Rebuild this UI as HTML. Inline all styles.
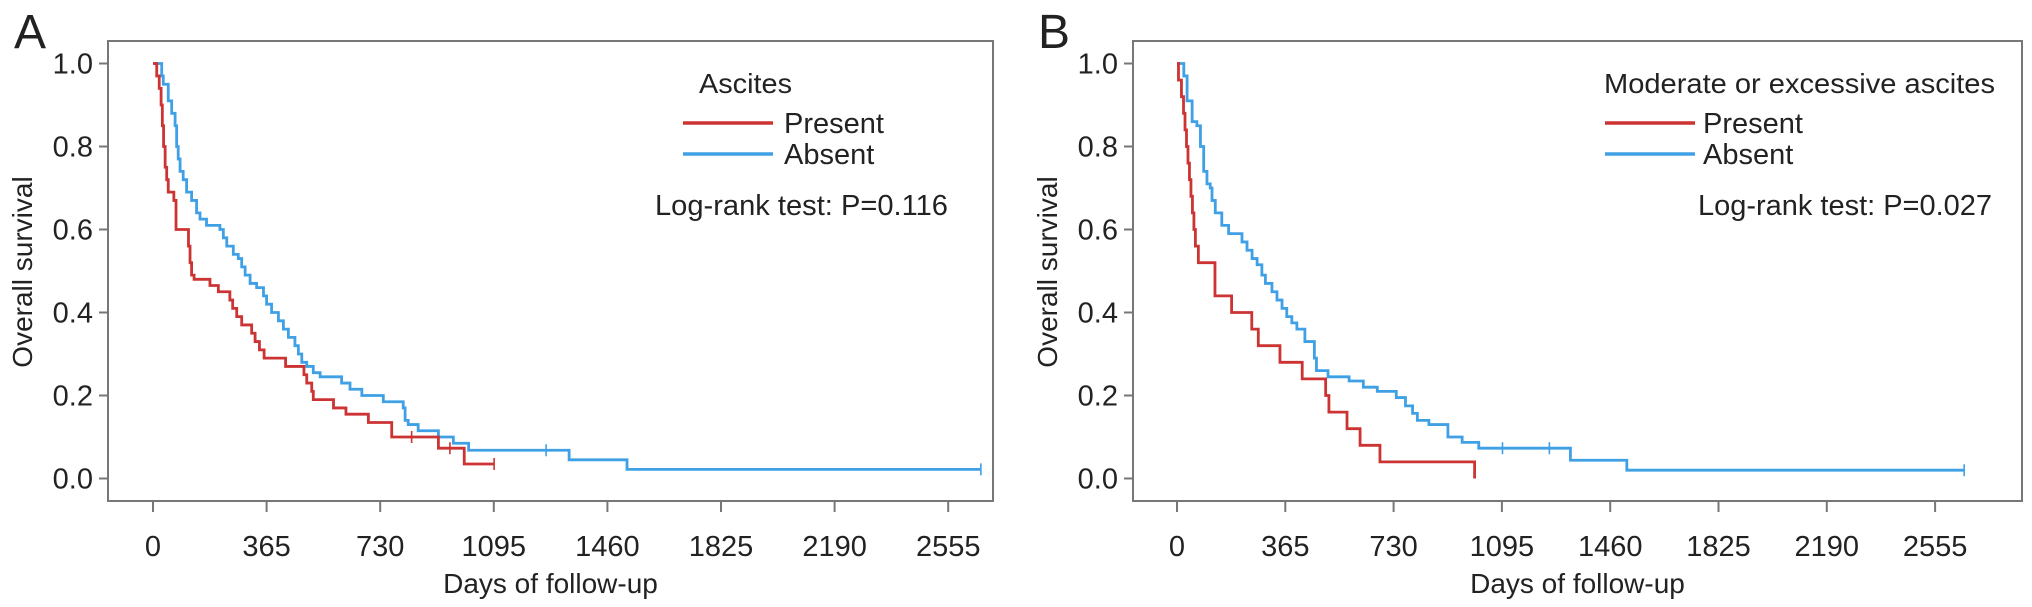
<!DOCTYPE html>
<html><head><meta charset="utf-8"><style>
html,body{margin:0;padding:0;background:#fff}
svg{display:block}
text{font-family:"Liberation Sans",Arial,sans-serif;fill:#222}
</style></head><body>
<svg id="chart" width="2032" height="607" viewBox="0 0 2032 607" xmlns="http://www.w3.org/2000/svg">
<text x="14" y="48" font-size="48">A</text>
<text x="1038" y="48" font-size="48">B</text>
<g id="pa"></g>
<g id="pb"></g>
</svg>
<script>
const xTicks = [0, 365, 730, 1095, 1460, 1825, 2190, 2555];
const yTicks = [0, 0.2, 0.4, 0.6, 0.8, 1.0];
const yTickLabels = ["0.0", "0.2", "0.4", "0.6", "0.8", "1.0"];

const aRedT = [12,20,26,30,34,39,44,49,67,74,114,119,124,132,183,210,247,256,269,285,317,328,342,357,426,485,494,510,515,580,620,692,767,917,1000];
const aRedS = [0.97,0.94,0.9,0.85,0.8,0.75,0.72,0.69,0.67,0.6,0.56,0.52,0.49,0.48,0.465,0.45,0.43,0.41,0.39,0.37,0.35,0.33,0.31,0.29,0.27,0.25,0.23,0.21,0.19,0.17,0.155,0.135,0.1,0.073,0.035];
const aRedEnd = 1096;
const aRedCensor = [831, 954, 1096];

const aBlueT = [28,33,49,60,71,76,81,87,97,108,124,140,151,172,215,226,237,258,274,285,296,312,333,355,365,381,403,419,435,456,467,478,494,515,537,606,633,671,740,804,810,820,852,917,965,1014,1337,1523];
const aBlueS = [0.97,0.95,0.91,0.88,0.85,0.8,0.77,0.74,0.72,0.69,0.67,0.64,0.625,0.61,0.6,0.58,0.56,0.54,0.53,0.51,0.49,0.47,0.46,0.44,0.42,0.4,0.38,0.36,0.34,0.32,0.3,0.28,0.27,0.255,0.245,0.23,0.215,0.2,0.185,0.17,0.14,0.13,0.115,0.1,0.085,0.068,0.045,0.022];
const aBlueEnd = 2660;
const aBlueCensor = [1263, 2660];

const bRedT = [5,15,22,27,32,37,42,47,52,57,62,72,128,184,252,274,347,422,501,512,573,617,684,1003];
const bRedS = [0.96,0.92,0.88,0.84,0.8,0.76,0.72,0.68,0.64,0.6,0.56,0.52,0.44,0.4,0.36,0.32,0.28,0.24,0.2,0.16,0.12,0.08,0.04,0.0];
const bRedEnd = 1003;
const bRedCensor = [];

const bBlueT = [23,34,51,67,79,90,101,112,118,129,151,174,219,236,253,270,286,298,320,337,354,370,387,404,431,463,470,509,580,628,675,739,770,794,810,849,913,961,1017,1326,1516];
const bBlueS = [0.97,0.91,0.86,0.85,0.8,0.74,0.71,0.7,0.67,0.64,0.61,0.59,0.57,0.55,0.53,0.515,0.49,0.47,0.45,0.43,0.41,0.39,0.375,0.36,0.33,0.29,0.26,0.245,0.235,0.22,0.21,0.195,0.175,0.157,0.14,0.13,0.1,0.087,0.073,0.044,0.02];
const bBlueEnd = 2653;
const bBlueCensor = [1097, 1255, 2653];

const RED = "#cc3333", BLUE = "#3fa0e6", AX = "#777";
const NS = "http://www.w3.org/2000/svg";
const Y0 = 478.5, YU = 415, FT = 41, FB = 501;
function mk(tag, attrs, parent, txt){
  const e = document.createElementNS(NS, tag);
  for (const k in attrs) e.setAttribute(k, attrs[k]);
  if (txt !== undefined) e.textContent = txt;
  parent.appendChild(e);
  return e;
}
function panel(g, cfg){
  const xs = d => cfg.x0 + d * cfg.pxPerDay;
  const ys = s => Y0 - s * YU;
  const fr = mk('rect', {x:cfg.fl, y:FT, width:cfg.fr-cfg.fl, height:FB-FT, fill:'none', stroke:AX, 'stroke-width':2}, g);
  
  
  yTicks.forEach((v,i)=>{
    const t = mk('line', {x1:cfg.fl-9, x2:cfg.fl, y1:ys(v), y2:ys(v), stroke:AX, 'stroke-width':2}, g);
    
    
    const l = mk('text', {x:cfg.fl-15, y:ys(v)+10, 'font-size':29, 'text-anchor':'end'}, g, yTickLabels[i]);
    
    
  });
  xTicks.forEach(v=>{
    const t = mk('line', {x1:xs(v), x2:xs(v), y1:FB, y2:FB+11, stroke:AX, 'stroke-width':2}, g);
    
    
    const l = mk('text', {x:xs(v), y:556, 'font-size':29, 'text-anchor':'middle'}, g, String(v));
    
    
  });
  const xt = mk('text', {x:(cfg.fl+cfg.fr)/2, y:593, 'font-size':28, 'text-anchor':'middle'}, g, 'Days of follow-up');
  
  
  const yt = mk('text', {x:0, y:0, 'font-size':28, 'text-anchor':'middle', transform:`translate(${cfg.fl-76},272) rotate(-90)`}, g, 'Overall survival');
  
  
  function curve(T, S, end, cens, col, name){
    let d = `M${xs(0)},${ys(1)}`;
    for (let i=0;i<T.length;i++){ d += ` H${xs(T[i])} V${ys(S[i])}`; }
    d += ` H${xs(end)}`;
    const p = mk('path', {d, fill:'none', stroke:col, 'stroke-width':2.8}, g);
    
    
    cens.forEach(c=>{
      let s = 1;
      for (let i=0;i<T.length;i++) if (T[i] <= c) s = S[i];
      const m = mk('line', {x1:xs(c), x2:xs(c), y1:ys(s)-6, y2:ys(s)+6, stroke:col, 'stroke-width':1.6}, g);
      
      
    });
  }
  curve(cfg.bT, cfg.bS, cfg.bE, cfg.bC, BLUE, 'absent-curve');
  curve(cfg.rT, cfg.rS, cfg.rE, cfg.rC, RED, 'present-curve');
  const L = cfg.leg;
  const lt = mk('text', {x:L.tx, y:93, 'font-size':28, textLength:L.tw, lengthAdjust:'spacingAndGlyphs'}, g, L.title);
  
  
  const r = mk('line', {x1:L.lx1, x2:L.lx2, y1:123, y2:123, stroke:RED, 'stroke-width':3.5}, g);
  
  
  const b = mk('line', {x1:L.lx1, x2:L.lx2, y1:154, y2:154, stroke:BLUE, 'stroke-width':3.5}, g);
  
  
  const rp = mk('text', {x:L.px, y:133, 'font-size':29}, g, 'Present');
  
  
  const ab = mk('text', {x:L.px, y:164, 'font-size':29}, g, 'Absent');
  
  
  const lr = mk('text', {x:L.rx, y:215, 'font-size':29, textLength:L.rw, lengthAdjust:'spacingAndGlyphs'}, g, L.rank);
  
  
}
panel(document.getElementById('pa'), {fl:108, fr:993, x0:153, pxPerDay:113.6/365,
  rT:aRedT, rS:aRedS, rE:aRedEnd, rC:aRedCensor, bT:aBlueT, bS:aBlueS, bE:aBlueEnd, bC:aBlueCensor,
  leg:{tx:699, tw:93, title:'Ascites', lx1:683, lx2:773, px:784, rx:655, rw:293, rank:'Log-rank test: P=0.116'}});
panel(document.getElementById('pb'), {fl:1133, fr:2022, x0:1177, pxPerDay:108.3/365,
  rT:bRedT, rS:bRedS, rE:bRedEnd, rC:bRedCensor, bT:bBlueT, bS:bBlueS, bE:bBlueEnd, bC:bBlueCensor,
  leg:{tx:1604, tw:391, title:'Moderate or excessive ascites', lx1:1605, lx2:1695, px:1703, rx:1698, rw:294, rank:'Log-rank test: P=0.027'}});
</script>
</body></html>
